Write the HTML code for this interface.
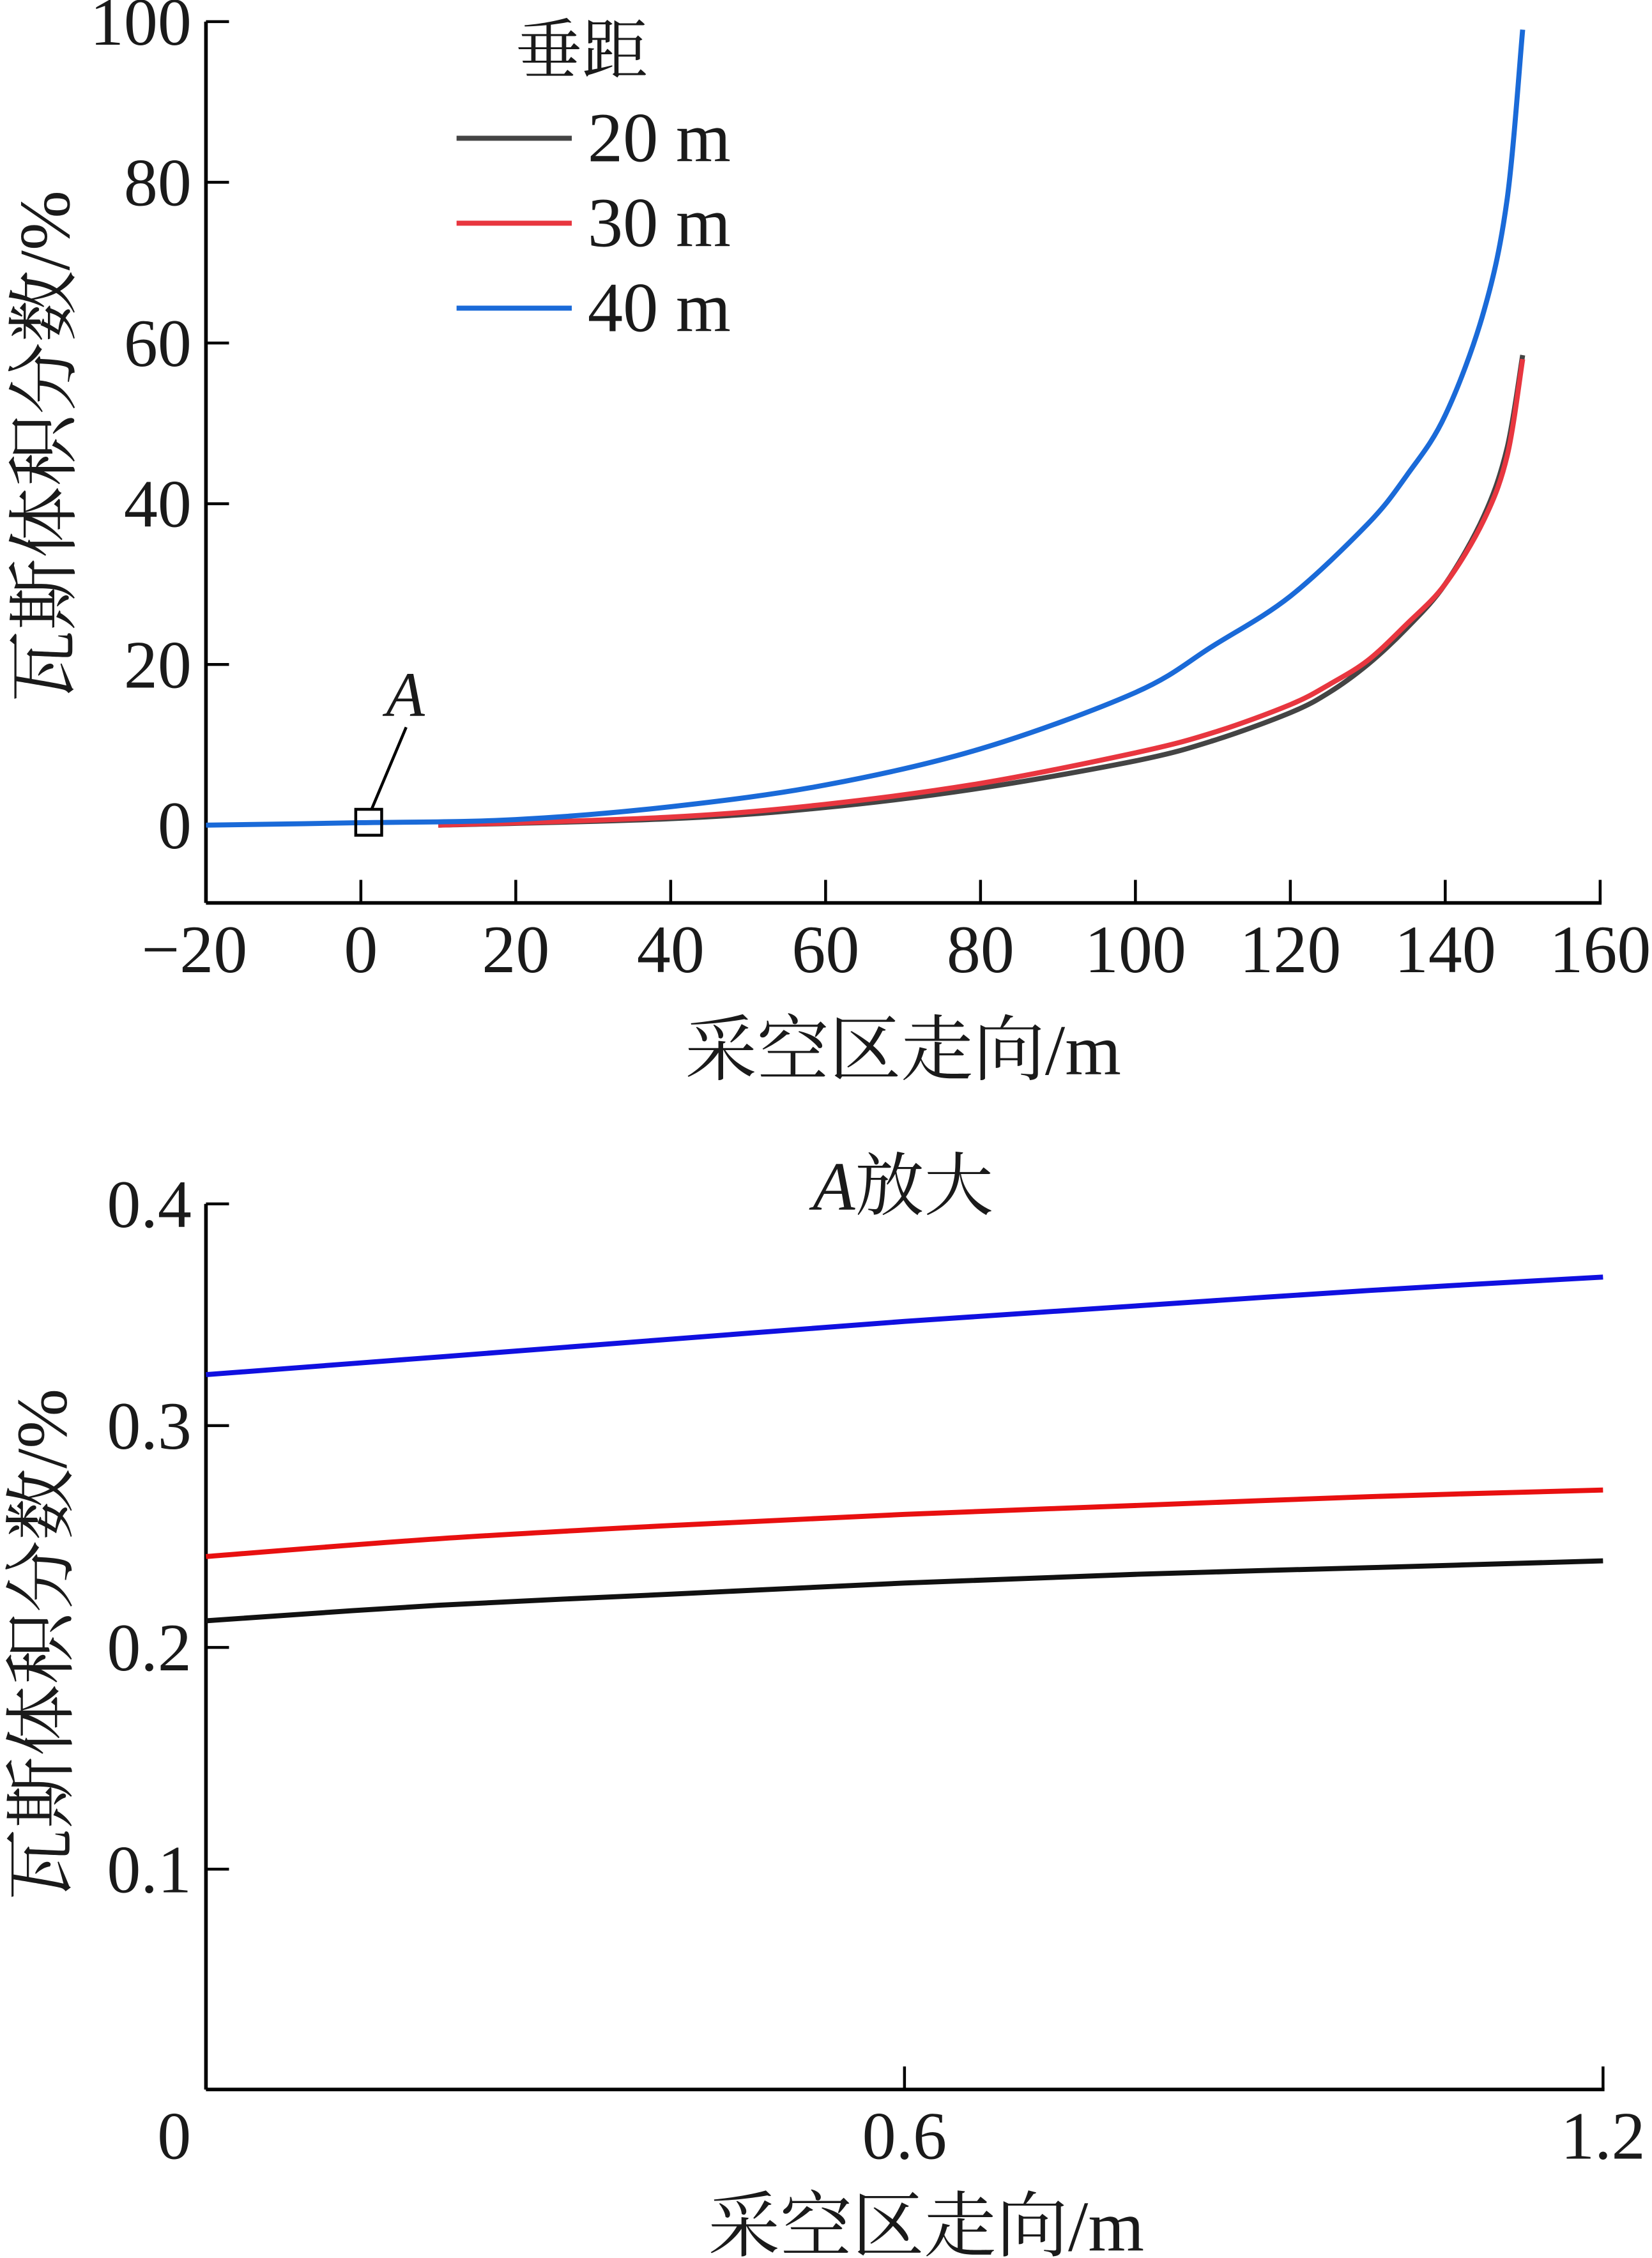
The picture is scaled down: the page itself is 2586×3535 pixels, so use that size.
<!DOCTYPE html>
<html><head><meta charset="utf-8"><style>
html,body{margin:0;padding:0;background:#fff;}
svg{display:block;}
text{font-family:"Liberation Serif","Noto Serif CJK SC",serif;fill:#1a1a1a;}
</style></head><body>
<svg id="chart" width="2586" height="3535" viewBox="0 0 1147 1568" preserveAspectRatio="none" xmlns="http://www.w3.org/2000/svg">
<g id="top"></g>
<g id="bot"></g>
</svg>
<script>
const topXTicks=[-20,0,20,40,60,80,100,120,140,160];
const topYTicks=[0,20,40,60,80,100];
const blueX=[-20,0,20,40,60,80,100,110,120,130,135,140,145,148,150];
const blueY=[0,0.3,0.7,2.3,5,9.5,16.5,22.3,28.5,37.5,43.5,51,64,78,99];
const blackX=[10,40,60,80,100,110,120,125,130,135,140,145,148,150];
const blackY=[0,0.8,2.2,4.6,8,10.5,14,16.5,20,24.5,30,38.5,47,58.5];
const redX=[10,40,60,80,100,110,120,125,130,135,140,145,148,150];
const redY=[0,1,2.6,5.2,9,11.5,15,17.5,20.5,25,30,38,46,58];
const botXTicks=[0,0.6,1.2];
const botYTicks=[0.1,0.2,0.3,0.4];
const zX=[0,0.2,0.4,0.6,0.8,1.0,1.2];
const zBlue=[0.323,0.331,0.339,0.347,0.354,0.361,0.367];
const zRed=[0.241,0.249,0.255,0.260,0.264,0.268,0.271];
const zBlack=[0.212,0.219,0.224,0.229,0.233,0.236,0.239];

const NS='http://www.w3.org/2000/svg';
function mk(parent,tag,attrs,txt){const e=document.createElementNS(NS,tag);for(const k in attrs)e.setAttribute(k,attrs[k]);if(txt!==undefined)e.textContent=txt;parent.appendChild(e);return e;}
const tx=v=>143+(v+20)*(968/180);
const ty=v=>573-v*5.58;
const bx=v=>143+v*(970/1.2);
const by=v=>1452-v*1540;
const FS=47;

const T=document.getElementById('top');
let e;
e=mk(T,'line',{x1:143,y1:15,x2:143,y2:627,stroke:'#000','stroke-width':2.5});


e=mk(T,'line',{x1:143,y1:627,x2:1112,y2:627,stroke:'#000','stroke-width':2.5});


topXTicks.forEach(v=>{
 mk(T,'line',{x1:tx(v),y1:627,x2:tx(v),y2:611,stroke:'#000','stroke-width':2});
 e=mk(T,'text',{x:tx(v)-(v<0?8:0),y:675,'font-size':FS,'text-anchor':'middle'},v<0?'\u2212'+(-v):String(v));
 
 
});
topYTicks.forEach(v=>{
 mk(T,'line',{x1:143,y1:ty(v),x2:159,y2:ty(v),stroke:'#000','stroke-width':2});
 e=mk(T,'text',{x:133,y:ty(v)+16,'font-size':FS,'text-anchor':'end'},String(v));
 
 
});
function poly(g,xs,ys,fx,fy,col,name,w){
 const P=xs.map((x,i)=>[fx(x),fy(ys[i])]);
 let d='M'+P[0][0].toFixed(1)+','+P[0][1].toFixed(1);
 for(let i=0;i<P.length-1;i++){
  const p0=P[Math.max(0,i-1)],p1=P[i],p2=P[i+1],p3=P[Math.min(P.length-1,i+2)];
  const c1=[p1[0]+(p2[0]-p0[0])/6,p1[1]+(p2[1]-p0[1])/6];
  const c2=[p2[0]-(p3[0]-p1[0])/6,p2[1]-(p3[1]-p1[1])/6];
  d+=' C'+c1.map(n=>n.toFixed(1)).join(',')+' '+c2.map(n=>n.toFixed(1)).join(',')+' '+p2.map(n=>n.toFixed(1)).join(',');
 }
 const el=mk(g,'path',{d:d,fill:'none',stroke:col,'stroke-width':w||3.5,'stroke-linejoin':'round'});
 
 
}
poly(T,blackX,blackY,tx,ty,'#444','series-20m');
poly(T,redX,redY,tx,ty,'#e8363f','series-30m');
poly(T,blueX,blueY,tx,ty,'#1a6ad8','series-40m');
e=mk(T,'rect',{x:247,y:562,width:18,height:18,fill:'none',stroke:'#000','stroke-width':2});


mk(T,'line',{x1:258,y1:562,x2:282,y2:505,stroke:'#000','stroke-width':2});
e=mk(T,'text',{x:268,y:497,'font-size':44,'font-style':'italic'},'A');


e=mk(T,'text',{x:358,y:51,'font-size':46},'垂距');


[['#444','20 m',96],['#e8363f','30 m',155],['#1a6ad8','40 m',214]].forEach(([c,t,y])=>{
 mk(T,'line',{x1:317,y1:y,x2:397,y2:y,stroke:c,'stroke-width':3.5});
 e=mk(T,'text',{x:408,y:y+16,'font-size':49},t);
 
 
});
e=mk(T,'text',{x:627,y:746,'font-size':50,'text-anchor':'middle'},'采空区走向/m');


e=mk(T,'text',{x:0,y:0,'font-size':50,'text-anchor':'middle',transform:'translate(48,310) rotate(-90)'},'瓦斯体积分数/%');



const B=document.getElementById('bot');
e=mk(B,'line',{x1:143,y1:836,x2:143,y2:1451,stroke:'#000','stroke-width':2.5});


e=mk(B,'line',{x1:143,y1:1451,x2:1114,y2:1451,stroke:'#000','stroke-width':2.5});


botXTicks.forEach(v=>{
 mk(B,'line',{x1:bx(v),y1:1451,x2:bx(v),y2:1435,stroke:'#000','stroke-width':2});
 e=mk(B,'text',{x:bx(v)-(v===0?22:0),y:1499,'font-size':FS,'text-anchor':'middle'},String(v));
 
 
});
botYTicks.forEach(v=>{
 mk(B,'line',{x1:143,y1:by(v),x2:159,y2:by(v),stroke:'#000','stroke-width':2});
 e=mk(B,'text',{x:133,y:by(v)+16,'font-size':FS,'text-anchor':'end'},v.toFixed(1));
 
 
});
poly(B,zX,zBlack,bx,by,'#111','zoom-series-20m');
poly(B,zX,zRed,bx,by,'#e81010','zoom-series-30m');
poly(B,zX,zBlue,bx,by,'#1010e0','zoom-series-40m');
e=mk(B,'text',{x:627,y:840,'font-size':48,'text-anchor':'middle'},'');


mk(e,'tspan',{'font-style':'italic'},'A');
mk(e,'tspan',{},'放大');
e=mk(B,'text',{x:643,y:1563,'font-size':50,'text-anchor':'middle'},'采空区走向/m');


e=mk(B,'text',{x:0,y:0,'font-size':50,'text-anchor':'middle',transform:'translate(46,1142) rotate(-90)'},'瓦斯体积分数/%');


</script>
</body></html>
